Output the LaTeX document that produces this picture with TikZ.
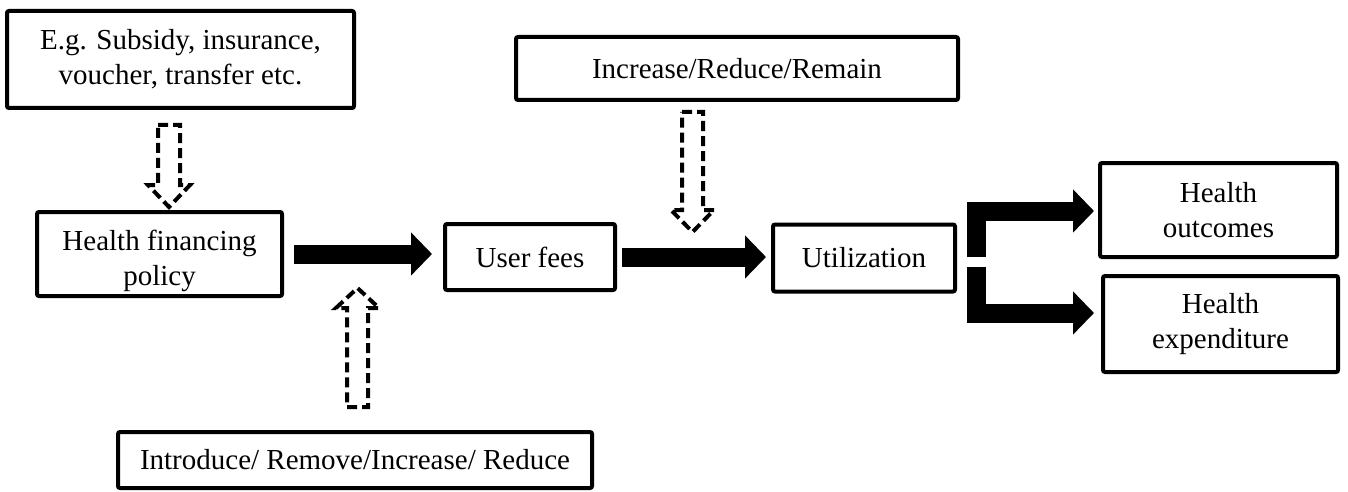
\documentclass[tikz,border=0pt]{standalone}
\usepackage{fontspec}
\setmainfont{Liberation Serif}
\usetikzlibrary{arrows.meta,calc}
\begin{document}
\begin{tikzpicture}[x=0.5pt,y=-0.5pt,
  box/.style={draw,line width=2pt,rounded corners=1pt,align=center,inner sep=0pt,
    font=\fontsize{14.5}{17.5}\selectfont},
  bigarrow/.style={line width=9.5pt,line cap=butt,miter limit=10,
    -{Triangle[length=10.5pt,width=21pt]}},
  dasharrow/.style={draw,line width=2pt,dash pattern=on 5pt off 2.5pt,line join=miter}]
\useasboundingbox (0,0) rectangle (1348,492);
% boxes
\node[box,minimum width=173.5pt,minimum height=48.5pt] (sub) at (180.5,59.5) {E.g. Subsidy, insurance,\\voucher, transfer etc.};
\node[box,minimum width=122.5pt,minimum height=42pt] (hfp) at (159.5,254) {\begin{tabular}{@{}c@{}}\rule{0pt}{19.25pt}Health financing\\policy\end{tabular}};
\node[box,minimum width=85pt,minimum height=33pt] (uf) at (530,257) {User fees};
\node[box,minimum width=91pt,minimum height=33.5pt] (util) at (864,258) {Utilization};
\node[box,minimum width=221pt,minimum height=31.5pt] (irr) at (737,68.5) {Increase/Reduce/Remain};
\node[box,minimum width=237pt,minimum height=28pt] (iri) at (355,460) {Introduce/ Remove/Increase/ Reduce};
\node[box,minimum width=118.5pt,minimum height=47pt] (ho) at (1218.5,210) {Health\\outcomes};
\node[box,minimum width=117.5pt,minimum height=48pt] (he) at (1220.5,324) {Health\\expenditure};
% thick arrows
\draw[bigarrow] ([xshift=5pt]hfp.east) -- ([xshift=-5.5pt]hfp.east -| uf.west);
\draw[bigarrow] ([xshift=2.5pt]uf.east) -- ([xshift=-2.5pt]uf.east -| util.west);
\coordinate (bu) at (976,257);
\coordinate (bl) at (976,267);
\coordinate (tu) at (1094,211);
\coordinate (tl) at (1094,313);
\draw[bigarrow] (bu) |- (tu);
\draw[bigarrow] (bl) |- (tl);
% dashed hollow arrows
\draw[dasharrow] (158,125) -- (180,125) -- (180,185) -- (190,185) -- (169,207) -- (148,185) -- (158,185) -- cycle;
\draw[dasharrow] (682,112) -- (703,112) -- (703,210) -- (714,210) -- (692.5,232) -- (671,210) -- (682,210) -- cycle;
\draw[dasharrow] (347,407) -- (368,407) -- (368,308) -- (379,308) -- (357.5,288) -- (336,308) -- (347,308) -- cycle;
\end{tikzpicture}
\end{document}
